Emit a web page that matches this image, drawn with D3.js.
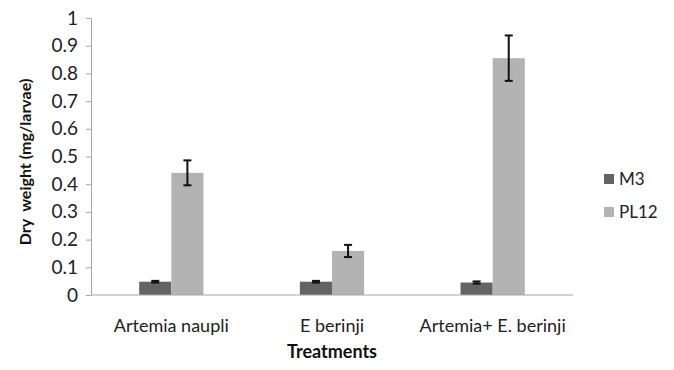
<!DOCTYPE html>
<html>
<head>
<meta charset="utf-8">
<script src="https://cdn.jsdelivr.net/npm/d3@7"></script>
<style>
	body { margin: 0; background: #fff; }
	text { font-family: Lato, "Open Sans", sans-serif; }
</style>
</head>
<body>
<div id="chart"></div>
<script>
const categories = ["Artemia naupli", "E berinji", "Artemia+ E. berinji"];
const seriesNames = ["M3", "PL12"];
const m3Values = [0.048, 0.048, 0.045];
const m3Errors = [0.003, 0.003, 0.004];
const pl12Values = [0.441, 0.159, 0.855];
const pl12Errors = [0.045, 0.022, 0.082];
const yTicks = [0, 0.1, 0.2, 0.3, 0.4, 0.5, 0.6, 0.7, 0.8, 0.9, 1];

const colors = { M3: "#646464", PL12: "#b3b3b3" };

const W = 674, H = 370;
const margin = { left: 91, right: 101, top: 18, bottom: 75 };

const svg = d3.select("#chart").append("svg")
	.attr("width", W)
	.attr("height", H);

const x0 = d3.scaleBand()
	.domain(categories)
	.range([margin.left, W - margin.right])
	.paddingInner(0.6)
	.paddingOuter(0.3);

const x1 = d3.scaleBand()
	.domain(seriesNames)
	.range([0, x0.bandwidth()]);

const y = d3.scaleLinear()
	.domain([0, 1])
	.range([H - margin.bottom, margin.top]);

// rows for bars
const rows = [];
categories.forEach((c, i) => {
	rows.push({ cat: c, s: "M3", v: m3Values[i], e: m3Errors[i] });
	rows.push({ cat: c, s: "PL12", v: pl12Values[i], e: pl12Errors[i] });
});

// y axis
const yAxis = svg.append("g")
	.attr("transform", `translate(${margin.left},0)`)
	.call(d3.axisLeft(y).tickValues(yTicks).tickFormat(d3.format("")).tickSize(5).tickSizeOuter(0));
yAxis.select(".domain").attr("stroke", "#a6a6a6");
yAxis.selectAll(".tick line").attr("stroke", "#a6a6a6");
yAxis.selectAll(".tick text")
	.attr("x", -13)
	.attr("fill", "#222")
	.style("font-size", "19px");

// bars
svg.append("g").selectAll("rect")
	.data(rows)
	.enter()
	.append("rect")
	.attr("x", d => x0(d.cat) + x1(d.s))
	.attr("y", d => y(d.v))
	.attr("width", x1.bandwidth())
	.attr("height", d => y(0) - y(d.v))
	.attr("fill", d => colors[d.s]);

// x axis baseline
svg.append("line")
	.attr("x1", margin.left)
	.attr("x2", W - margin.right)
	.attr("y1", y(0))
	.attr("y2", y(0))
	.attr("stroke", "#a6a6a6");

// error bars
const err = svg.append("g").selectAll("g")
	.data(rows)
	.enter()
	.append("g")
	.attr("stroke", "#111")
	.attr("stroke-width", 2);
const cx = d => x0(d.cat) + x1(d.s) + x1.bandwidth() / 2;
err.append("line")
	.attr("x1", cx).attr("x2", cx)
	.attr("y1", d => y(d.v + d.e)).attr("y2", d => y(d.v - d.e));
err.append("line")
	.attr("x1", d => cx(d) - 4).attr("x2", d => cx(d) + 4)
	.attr("y1", d => y(d.v + d.e)).attr("y2", d => y(d.v + d.e));
err.append("line")
	.attr("x1", d => cx(d) - 4).attr("x2", d => cx(d) + 4)
	.attr("y1", d => y(d.v - d.e)).attr("y2", d => y(d.v - d.e));

// category labels
svg.append("g").selectAll("text")
	.data(categories)
	.enter()
	.append("text")
	.attr("x", d => x0(d) + x0.bandwidth() / 2)
	.attr("y", 332)
	.attr("text-anchor", "middle")
	.attr("fill", "#222")
	.style("font-size", "18px")
	.text(d => d);

// axis titles
svg.append("text")
	.attr("x", (margin.left + W - margin.right) / 2)
	.attr("y", 358)
	.attr("text-anchor", "middle")
	.attr("fill", "#111")
	.style("font-size", "18px")
	.style("font-weight", "bold")
	.text("Treatments");

svg.append("text")
	.attr("transform", "translate(31,162) rotate(-90)")
	.attr("text-anchor", "middle")
	.attr("fill", "#111")
	.style("font-size", "16px")
	.style("font-weight", "bold")
	.style("white-space", "pre")
	.text("Dry  weight (mg/larvae)");

// legend
const legend = svg.append("g").selectAll("g")
	.data(seriesNames)
	.enter()
	.append("g")
	.attr("transform", (d, i) => `translate(604,${174 + i * 33})`);
legend.append("rect")
	.attr("width", 10)
	.attr("height", 10)
	.attr("fill", d => colors[d]);
legend.append("text")
	.attr("x", 15)
	.attr("y", 11)
	.attr("fill", "#222")
	.style("font-size", "17px")
	.text(d => d);
</script>
</body>
</html>
